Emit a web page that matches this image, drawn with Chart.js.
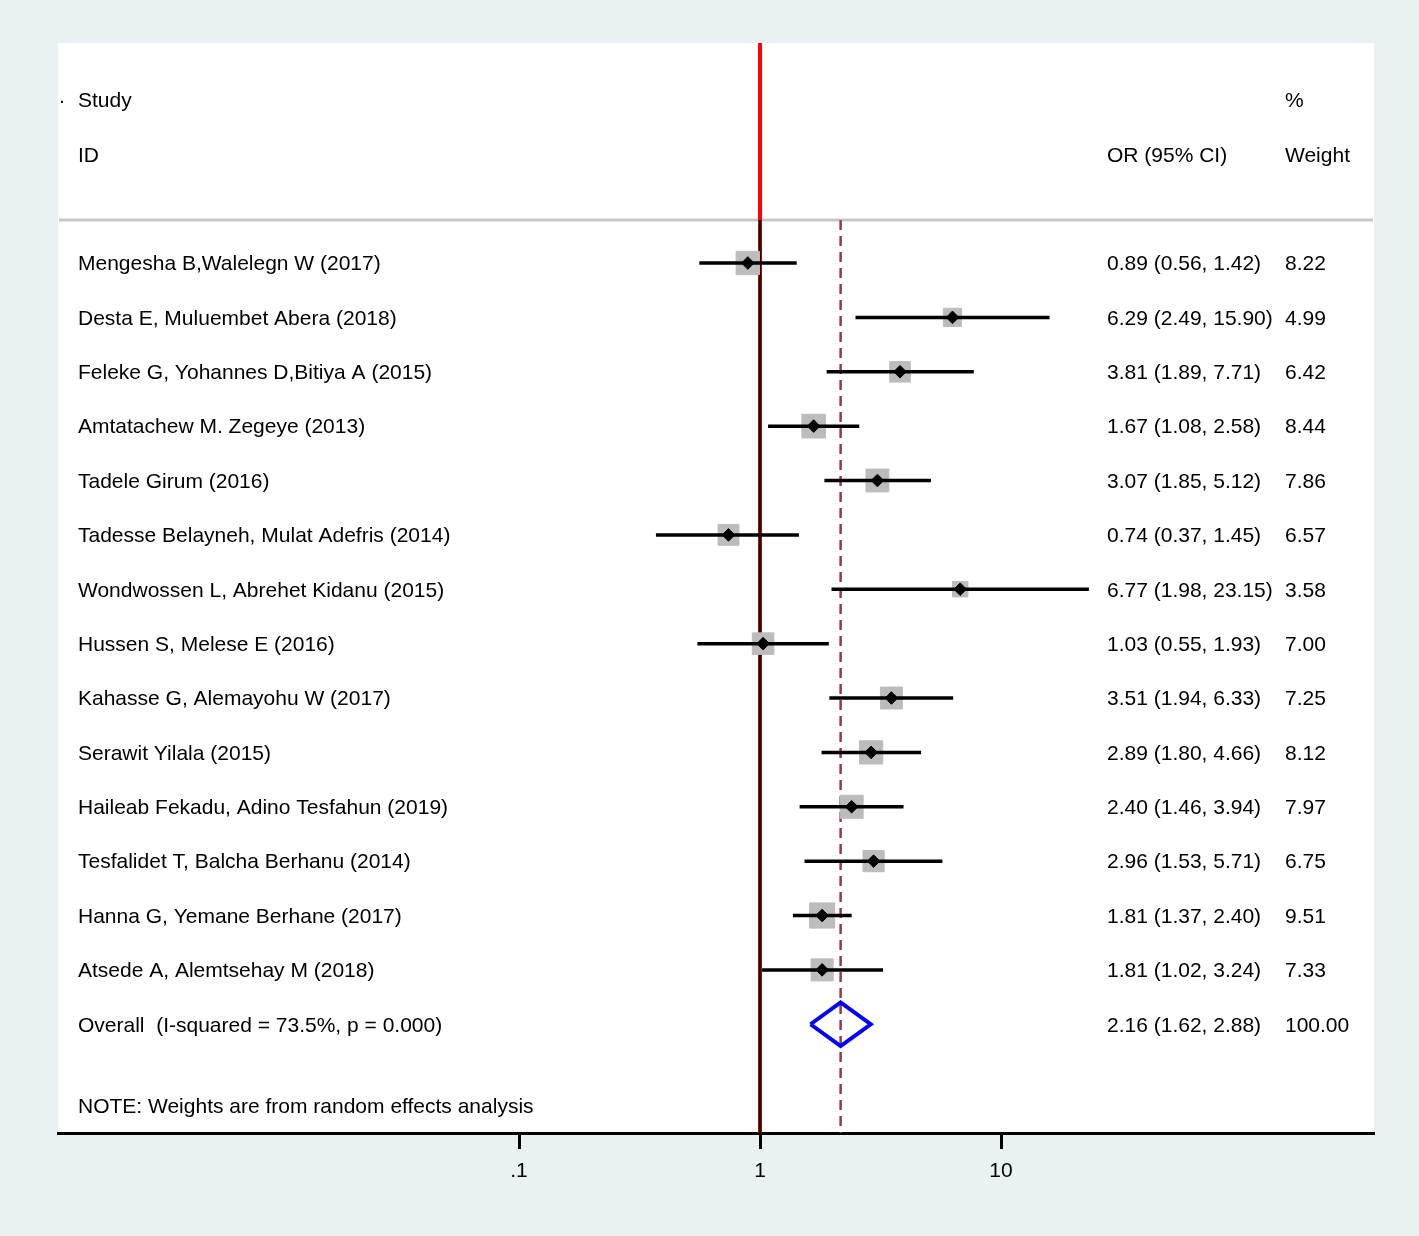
<!DOCTYPE html>
<html lang="en">
  <head>
    <meta charset="UTF-8" />
    <title>Forest plot</title>
    <script src="https://cdn.jsdelivr.net/npm/chart.js"></script>
    <style>
      html, body { margin: 0; padding: 0; background: #e9f1f3; }
      canvas { display: block; }
    </style>
  </head>
  <body>
    <canvas id="forest" width="1419" height="1236"></canvas>
    <script>
      // study data
      const studies = [
        "Mengesha B,Walelegn W (2017)",
        "Desta E, Muluembet Abera (2018)",
        "Feleke G, Yohannes D,Bitiya A (2015)",
        "Amtatachew M. Zegeye (2013)",
        "Tadele Girum (2016)",
        "Tadesse Belayneh, Mulat Adefris (2014)",
        "Wondwossen L, Abrehet Kidanu (2015)",
        "Hussen S, Melese E (2016)",
        "Kahasse G, Alemayohu W (2017)",
        "Serawit Yilala (2015)",
        "Haileab Fekadu, Adino Tesfahun (2019)",
        "Tesfalidet T, Balcha Berhanu (2014)",
        "Hanna G, Yemane Berhane (2017)",
        "Atsede A, Alemtsehay M (2018)"
      ];
      const oddsRatio = [0.89, 6.29, 3.81, 1.67, 3.07, 0.74, 6.77, 1.03, 3.51, 2.89, 2.40, 2.96, 1.81, 1.81];
      const lower = [0.56, 2.49, 1.89, 1.08, 1.85, 0.37, 1.98, 0.55, 1.94, 1.80, 1.46, 1.53, 1.37, 1.02];
      const upper = [1.42, 15.90, 7.71, 2.58, 5.12, 1.45, 23.15, 1.93, 6.33, 4.66, 3.94, 5.71, 2.40, 3.24];
      const weights = [8.22, 4.99, 6.42, 8.44, 7.86, 6.57, 3.58, 7.00, 7.25, 8.12, 7.97, 6.75, 9.51, 7.33];

      const overallLabel = "Overall  (I-squared = 73.5%, p = 0.000)";
      const overall = 2.16;
      const overallLower = 1.62;
      const overallUpper = 2.88;
      const overallWeight = 100.0;
      const note = "NOTE: Weights are from random effects analysis";

      const tickValues = [0.1, 1, 10];
      const tickLabels = [".1", "1", "10"];

      // row layout (y = row index, 0 = first study)
      const overallRow = studies.length;
      const headerRow1 = -3;
      const headerRow2 = -2;
      const ruleRow = -0.79;
      const noteRow = 15.5;
      const yMin = -4.046;
      const yMax = 16.0;

      const FONT = "21px 'Liberation Sans', Arial, Helvetica, sans-serif";

      const ciSets = studies.map((s, i) => ({
        label: "ci" + i,
        data: [{ x: lower[i], y: i }, { x: upper[i], y: i }],
        showLine: true,
        borderColor: "#000",
        borderWidth: 3.5,
        pointRadius: 0,
        order: 1
      }));

      const datasets = [
        {
          label: "estimate",
          data: oddsRatio.map((v, i) => ({ x: v, y: i })),
          pointStyle: "rectRot",
          pointRadius: 6.3,
          backgroundColor: "#000",
          borderColor: "#000",
          borderWidth: 1,
          order: 0
        },
        ...ciSets,
        {
          label: "weight box",
          data: oddsRatio.map((v, i) => ({ x: v, y: i })),
          pointStyle: "rect",
          pointRadius: (ctx) => (8.15 * Math.sqrt(weights[ctx.dataIndex])) / Math.SQRT2,
          backgroundColor: "#bcbcbc",
          borderColor: "#bcbcbc",
          borderWidth: 1,
          order: 2
        },
        {
          label: "overall",
          data: [
            { x: overallLower, y: overallRow },
            { x: overall, y: overallRow - 0.4 },
            { x: overallUpper, y: overallRow },
            { x: overall, y: overallRow + 0.4 },
            { x: overallLower, y: overallRow }
          ],
          showLine: true,
          borderColor: "#0000ff",
          borderWidth: 4,
          borderJoinStyle: "miter",
          pointRadius: 0,
          order: 1
        },
        {
          label: "overall line",
          data: [{ x: overall, y: ruleRow }, { x: overall, y: yMax }],
          showLine: true,
          borderColor: "#963a4a",
          borderWidth: 2.5,
          borderDash: [10, 6],
          pointRadius: 0,
          order: 3
        },
        {
          label: "null line black",
          data: [{ x: 1, y: ruleRow }, { x: 1, y: yMax }],
          showLine: true,
          borderColor: "#000",
          borderWidth: 2.5,
          pointRadius: 0,
          order: 4
        },
        {
          label: "null line red",
          data: [{ x: 1, y: yMin }, { x: 1, y: yMax }],
          showLine: true,
          borderColor: "#ff0000",
          borderWidth: 4,
          pointRadius: 0,
          order: 5
        }
      ];

      const panel = {
        id: "panel",
        beforeDraw(chart) {
          const { ctx, chartArea: a } = chart;
          ctx.save();
          ctx.fillStyle = "#e9f1f3";
          ctx.fillRect(0, 0, chart.width, chart.height);
          ctx.fillStyle = "#ffffff";
          ctx.fillRect(a.left, a.top, a.right - a.left, a.bottom - a.top);
          // header rule
          const y = chart.scales.y.getPixelForValue(ruleRow);
          ctx.strokeStyle = "#c8c8c8";
          ctx.lineWidth = 3;
          ctx.beginPath();
          ctx.moveTo(a.left + 1, y);
          ctx.lineTo(a.right - 1, y);
          ctx.stroke();
          ctx.restore();
        },
        afterDraw(chart) {
          const { ctx } = chart;
          const ys = chart.scales.y;
          const colLeft = 78, colOR = 1107, colW = 1285;
          ctx.save();
          ctx.font = FONT;
          ctx.fillStyle = "#000";
          ctx.textBaseline = "middle";
          ctx.textAlign = "left";
          const put = (t, x, row) => ctx.fillText(t, x, ys.getPixelForValue(row) + 1.5);
          ctx.fillRect(61, ys.getPixelForValue(headerRow1) + 1, 2, 2);
          put("Study", colLeft, headerRow1);
          put("ID", colLeft, headerRow2);
          put("%", colW, headerRow1);
          put("OR (95% CI)", colOR, headerRow2);
          put("Weight", colW, headerRow2);
          studies.forEach((s, i) => {
            put(s, colLeft, i);
            put(oddsRatio[i].toFixed(2) + " (" + lower[i].toFixed(2) + ", " + upper[i].toFixed(2) + ")", colOR, i);
            put(weights[i].toFixed(2), colW, i);
          });
          put(overallLabel, colLeft, overallRow);
          put(overall.toFixed(2) + " (" + overallLower.toFixed(2) + ", " + overallUpper.toFixed(2) + ")", colOR, overallRow);
          put(overallWeight.toFixed(2), colW, overallRow);
          put(note, colLeft, noteRow);
          ctx.restore();
        }
      };

      new Chart(document.getElementById("forest"), {
        type: "scatter",
        data: { datasets },
        plugins: [panel],
        options: {
          responsive: false,
          animation: false,
          layout: { padding: { left: 58, right: 45, top: 43, bottom: 0 } },
          plugins: { legend: { display: false }, tooltip: { enabled: false } },
          scales: {
            x: {
              type: "logarithmic",
              min: 0.0012221,
              max: 352.9,
              afterFit: (s) => { s.height = 103; },
              afterBuildTicks: (s) => { s.ticks = tickValues.map((v) => ({ value: v })); },
              border: { display: true, color: "#000", width: 3 },
              grid: {
                display: true,
                drawOnChartArea: false,
                drawTicks: true,
                tickLength: 16,
                tickWidth: 3,
                tickColor: "#000"
              },
              ticks: {
                color: "#000",
                font: { family: "'Liberation Sans', Arial, sans-serif", size: 21 },
                padding: 10,
                maxRotation: 0,
                autoSkip: false,
                callback: (v) => tickLabels[tickValues.indexOf(v)]
              }
            },
            y: {
              display: false,
              reverse: true,
              min: yMin,
              max: yMax
            }
          }
        }
      });
    </script>
  </body>
</html>
